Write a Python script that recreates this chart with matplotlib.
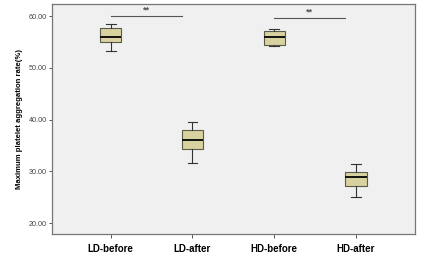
import matplotlib
matplotlib.use("Agg")
import matplotlib.pyplot as plt

groups = ["LD-before", "LD-after", "HD-before", "HD-after"]
whisker_low = [53.3, 31.7, 54.3, 25.1]
q1 = [55.0, 34.25, 54.4, 27.25]
median = [55.9, 36.05, 55.9, 28.9]
q3 = [57.7, 38.05, 57.1, 29.95]
whisker_high = [58.45, 39.55, 57.5, 31.35]

# significance bars: (start group, end group, y level, label)
sig_bars = [(1, 1.87, 60.05, "**"), (3, 3.86, 59.7, "**")]

plt.rcParams['font.family'] = ['Liberation Sans', 'DejaVu Sans']

fig = plt.figure(figsize=(4.22, 2.74), dpi=100)
ax = fig.add_axes([0.123, 0.146, 0.860, 0.839])
ax.set_facecolor("#f0f0f0")

stats = []
for i, g in enumerate(groups):
    stats.append({"label": g, "whislo": whisker_low[i], "q1": q1[i], "med": median[i],
                  "q3": q3[i], "whishi": whisker_high[i], "fliers": []})

ax.bxp(stats, positions=[1, 2, 3, 4], widths=0.26, patch_artist=True,
       showfliers=False,
       boxprops=dict(facecolor="#d8d2a0", edgecolor="#5a5a4a", linewidth=0.8),
       medianprops=dict(color="#111111", linewidth=1.4),
       whiskerprops=dict(color="#333333", linewidth=0.8),
       capprops=dict(color="#333333", linewidth=0.8),
       capwidths=0.12)

for x0, x1, y, lab in sig_bars:
    ax.plot([x0, x1], [y, y], color="#555555", linewidth=0.8)
    ax.text((x0 + x1) / 2, y + 0.2, lab, ha="center", va="bottom",
            fontsize=6.5, color="#555555", fontweight="bold")

ax.set_xlim(0.28, 4.72)
ax.set_ylim(17.9, 62.3)
ax.set_yticks([20, 30, 40, 50, 60])
ax.set_yticklabels(["%.2f" % v for v in [20, 30, 40, 50, 60]], fontsize=5.2, color="#444444")
ax.set_xticks([1, 2, 3, 4])
ax.set_xticklabels(groups, fontsize=7, fontweight="bold")
ax.tick_params(axis="y", length=2.5, width=0.7, color="#555555", pad=1)
ax.tick_params(axis="x", length=3, width=0.7, color="#555555", pad=4)
ax.set_ylabel("Maximum platelet aggregation rate(%)", fontsize=5.6, fontweight="bold", labelpad=4)

for s in ax.spines.values():
    s.set_color("#777777")
    s.set_linewidth(0.9)

fig.savefig("out.png", dpi=100)
